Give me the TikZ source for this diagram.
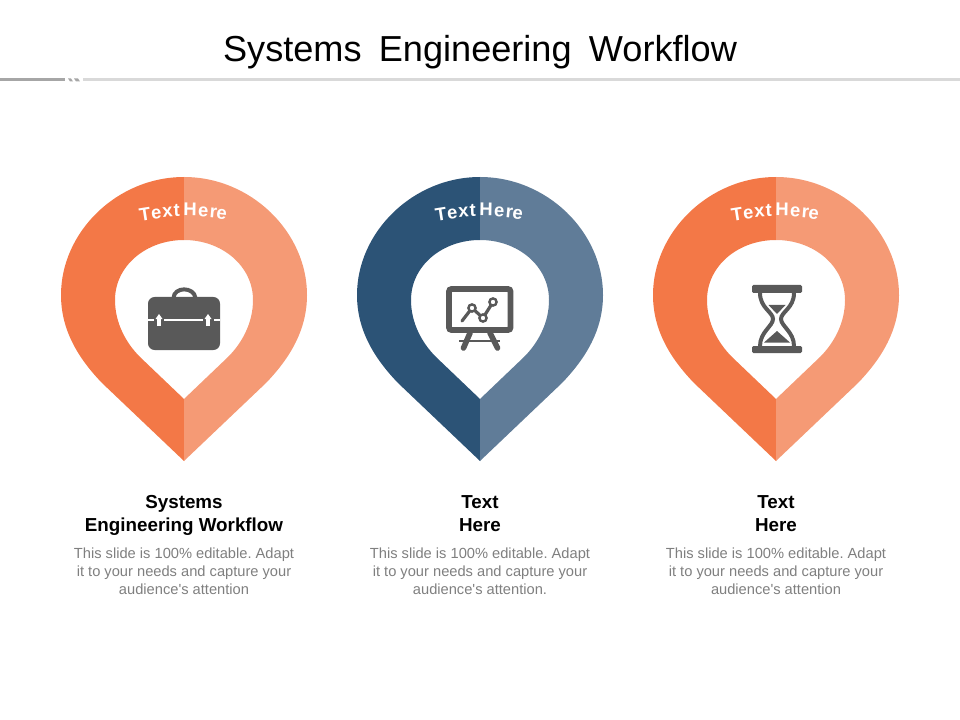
\documentclass[tikz,border=0pt]{standalone}
\usepackage{fontspec}
\setmainfont[Ligatures=TeXOff]{Liberation Sans}

\definecolor{pinorange}{HTML}{F37847}
\definecolor{pinorangelt}{HTML}{F59A75}
\definecolor{pinblue}{HTML}{2C5376}
\definecolor{pinbluelt}{HTML}{607C98}
\definecolor{icongray}{HTML}{595959}
\definecolor{bodygray}{HTML}{7F7F7F}

\tikzset{
    titletext/.style={font=\fontsize{27.1}{32}\selectfont, text=black, inner sep=0pt},
    headtext/.style={font=\fontsize{14.1}{17.2}\selectfont\bfseries, text=black, align=center, inner sep=0pt, anchor=base},
    bodytext/.style={font=\fontsize{11}{13.6}\selectfont\frenchspacing, text=bodygray, align=center, inner sep=0pt},
    pinletter/.style={font=\fontsize{13.8}{15}\selectfont\bfseries, text=white, inner sep=0pt, anchor=base},
    iconfill/.style={fill=icongray, draw=none},
    iconline/.style={draw=icongray, line cap=round}
}

% half of a pin, left side, centre line at x=0
\newcommand{\pinhalf}[1]{
    \fill[#1] (0,177) .. controls (-67,177) and (-123,232) .. (-123,295)
        .. controls (-123,330) and (-106,358) .. (-82,383)
        -- (0,461) -- (0,399) -- (-44,357)
        .. controls (-58,343) and (-69,323) .. (-69,300)
        .. controls (-69,266) and (-38,240) .. (0,240) -- cycle;
}

\begin{document}
\begin{tikzpicture}[x=0.75pt, y=-0.75pt]
    \useasboundingbox (0,0) rectangle (960,720);

    \node[titletext] (title) at (480,52) {Systems\hspace{0.2em} Engineering\hspace{0.2em} Workflow};

    \fill[black!15] (83,78.5) rectangle (960,81.5);
    \fill[black!35] (0,78.5) rectangle (65,81.5);
    \fill[black!35] (68,78.5) -- (71,78.5) -- (73,81.5) -- (70,81.5) -- cycle
                    (74,78.5) -- (78,78.5) -- (80,81.5) -- (76,81.5) -- cycle;

    \foreach \cx/\pindark/\pinlight in {184/pinorange/pinorangelt, 480/pinblue/pinbluelt, 776/pinorange/pinorangelt}{
        \begin{scope}[shift={(\cx,0)}]
            \pinhalf{\pindark}
            \begin{scope}[xscale=-1]
                \pinhalf{\pinlight}
            \end{scope}
            \foreach \ch/\lx/\ly/\lrot [count=\n] in {T/-38/220.5/9, e/-27/219/7, x/-16/217.5/5, t/-7/216.5/2,
                                                      H/6/216/-1, e/19/216.5/-3, r/29/217.5/-5, e/37/219/-8}{
                \node[pinletter, rotate=\lrot] (let\cx-\n) at (\lx,\ly) {\ch};
            }
        \end{scope}
    }

    % briefcase
    \draw[icongray, line width=3pt] (173.5,298) .. controls (174,286.5) and (194,286.5) .. (195.5,298);
    \fill[icongray, rounded corners=5pt] (148,297) rectangle (220,350);
    \draw[white, line width=2.2pt] (148,320) -- (154,320) (164,320) -- (203,320) (214,320) -- (220,320);
    \draw[white, line width=2.4pt] (159,326) -- (159,318);
    \fill[white] (155.5,319) -- (159,314) -- (162.5,319) -- cycle;
    \draw[white, line width=2.4pt] (208,326) -- (208,318);
    \fill[white] (204.5,319) -- (208,314) -- (211.5,319) -- cycle;

    % easel
    \draw[iconline, line width=4.2pt] (470,333) -- (463.5,348) (490,333) -- (497.5,348);
    \draw[icongray, line width=1.2pt] (459,341) -- (500,341);
    \draw[icongray, line width=4.4pt, rounded corners=2pt] (449,289) rectangle (510.5,330);
    \draw[iconline, line width=2.4pt] (462,321) -- (472,308) -- (483,318) -- (493,302);
    \foreach \px/\py in {472/308, 483/318, 493/302}{
        \filldraw[draw=icongray, fill=white, line width=1.8pt] (\px,\py) circle (3.6);
    }

    % hourglass
    \fill[iconfill, rounded corners=1pt] (752,285) rectangle (802,293);
    \fill[iconfill, rounded corners=1pt] (752,346) rectangle (802,353);
    \draw[icongray, line width=3pt] (760,293) .. controls (760,308) and (773,312) .. (773,319)
        .. controls (773,326) and (760,332) .. (760,346);
    \draw[icongray, line width=3pt] (794,293) .. controls (794,308) and (781,312) .. (781,319)
        .. controls (781,326) and (794,332) .. (794,346);
    \fill[iconfill] (768.5,305) -- (785.5,305) -- (777,314) -- cycle;
    \fill[iconfill] (777,331) -- (790,342.5) -- (764,342.5) -- cycle;

    % captions
    \node[headtext] (head1) at (184,531) {Systems\\Engineering Workflow};
    \node[headtext] (head2) at (480,531) {Text\\Here};
    \node[headtext] (head3) at (776,531) {Text\\Here};

    \node[bodytext] (body1) at (184,571) {This slide is 100\% editable. Adapt\\it to your needs and capture your\\audience's attention};
    \node[bodytext] (body2) at (480,571) {This slide is 100\% editable. Adapt\\it to your needs and capture your\\audience's attention.};
    \node[bodytext] (body3) at (776,571) {This slide is 100\% editable. Adapt\\it to your needs and capture your\\audience's attention};
\end{tikzpicture}
\end{document}
